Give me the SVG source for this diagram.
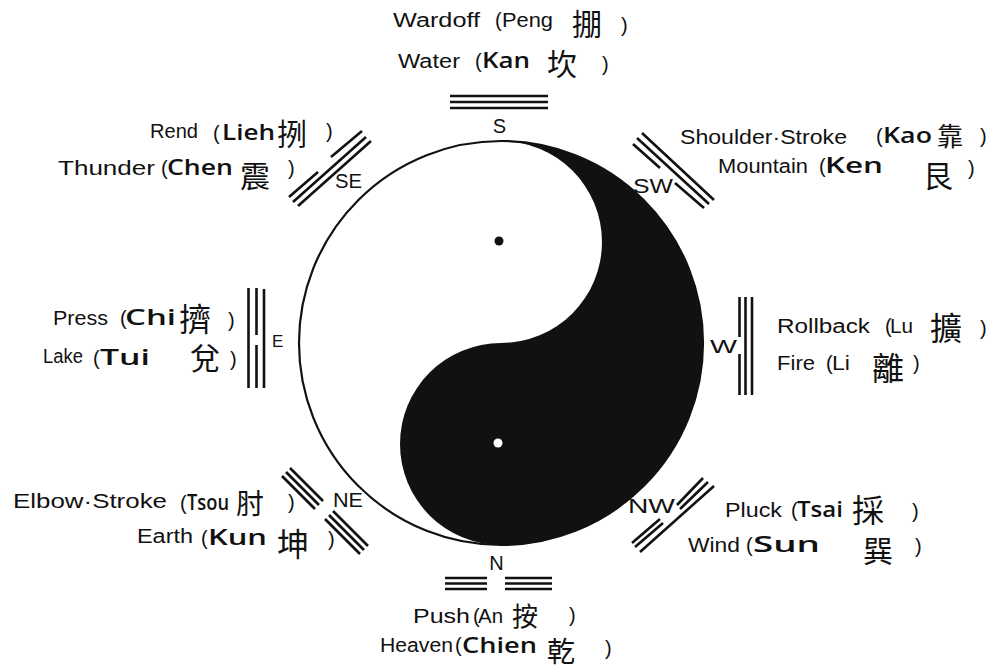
<svg xmlns="http://www.w3.org/2000/svg" width="991" height="672" viewBox="0 0 991 672">
<style>
text{fill:#111}
.en{font-family:"Liberation Sans",Arial,sans-serif;font-size:20px}
.tr{font-family:"Open Sans","DejaVu Sans",sans-serif;font-size:22px;font-weight:600}
.cj{font-family:"Noto Sans CJK TC","Noto Sans CJK SC",sans-serif;font-size:30px}
.dir{font-family:"Liberation Sans",Arial,sans-serif;font-size:20px}
.tri line{stroke:#111;stroke-width:2.6;stroke-linecap:butt}
</style>
<rect width="991" height="672" fill="#fff"/>

<g id="yinyang">
<circle cx="501" cy="343" r="202" fill="#fff" stroke="#111" stroke-width="2.2"/>
<path d="M501,141 A202,202 0 0 1 501,545 A101,101 0 0 1 501,343 A101,101 0 0 0 501,141 Z" fill="#111"/>
<circle cx="499" cy="241" r="4.5" fill="#111"/>
<circle cx="498" cy="443" r="4.5" fill="#fff"/>
</g>

<g id="connectors"></g>

<g id="node-s">
<text class="en" y="27"><tspan x="393" textLength="87" lengthAdjust="spacingAndGlyphs">Wardoff</tspan> <tspan x="495">(</tspan><tspan x="502" textLength="51" lengthAdjust="spacingAndGlyphs">Peng</tspan> <tspan class="cj" x="572" y="35">掤</tspan><tspan x="621" y="32">)</tspan></text>
<text class="en" y="68"><tspan x="398" textLength="62" lengthAdjust="spacingAndGlyphs">Water</tspan> <tspan x="475">(</tspan><tspan class="tr" x="482" textLength="48" lengthAdjust="spacingAndGlyphs">Kan</tspan> <tspan class="cj" x="547" y="75">坎</tspan><tspan x="602" y="71">)</tspan></text>
<g class="tri">
<line x1="450" y1="96" x2="548" y2="96"/>
<line x1="450" y1="102" x2="548" y2="102"/>
<line x1="450" y1="108" x2="548" y2="108"/>
</g>
<text class="dir" x="499.5" y="133" text-anchor="middle">S</text>
</g>

<g id="node-se">
<text class="en" y="138"><tspan x="150" textLength="48" lengthAdjust="spacingAndGlyphs">Rend</tspan> <tspan x="213" y="140">(</tspan><tspan class="tr" x="222" y="140" textLength="53" lengthAdjust="spacingAndGlyphs">Lieh</tspan> <tspan class="cj" x="277" y="145">挒</tspan><tspan x="326" y="138">)</tspan></text>
<text class="en" y="175"><tspan x="58" textLength="97" lengthAdjust="spacingAndGlyphs">Thunder</tspan> <tspan x="161">(</tspan><tspan class="tr" x="167" textLength="66" lengthAdjust="spacingAndGlyphs">Chen</tspan> <tspan class="cj" x="240" y="187">震</tspan><tspan x="288" y="175">)</tspan></text>
<g class="tri">
<line x1="289" y1="197" x2="318" y2="172"/>
<line x1="331" y1="157" x2="362" y2="131"/>
<line x1="293" y1="202" x2="366" y2="137"/>
<line x1="298" y1="206" x2="371" y2="141"/>
</g>
<text class="dir" x="335" y="188" textLength="27" lengthAdjust="spacingAndGlyphs">SE</text>
</g>

<g id="node-sw">
<text class="en" y="144"><tspan x="680" textLength="167" lengthAdjust="spacingAndGlyphs">Shoulder·Stroke</tspan> <tspan x="876" y="143">(</tspan><tspan class="tr" x="883" y="143" textLength="49" lengthAdjust="spacingAndGlyphs">Kao</tspan> <tspan class="cj" x="937" y="146" style="font-size:26px">靠</tspan><tspan x="980" y="143">)</tspan></text>
<text class="en" y="173"><tspan x="718" textLength="90" lengthAdjust="spacingAndGlyphs">Mountain</tspan> <tspan x="819">(</tspan><tspan class="tr" x="825" textLength="58" lengthAdjust="spacingAndGlyphs">Ken</tspan> <tspan class="cj" x="923" y="187">艮</tspan><tspan x="968" y="175">)</tspan></text>
<g class="tri">
<line x1="642" y1="133" x2="714" y2="200"/>
<line x1="637" y1="138" x2="709" y2="204"/>
<line x1="633" y1="144" x2="660" y2="168"/>
<line x1="675" y1="183" x2="704" y2="208"/>
</g>
<text class="dir" x="633" y="193" textLength="40" lengthAdjust="spacingAndGlyphs">SW</text>
</g>

<g id="node-e">
<text class="en" y="325"><tspan x="53" textLength="55" lengthAdjust="spacingAndGlyphs">Press</tspan> <tspan x="120">(</tspan><tspan class="tr" x="125" textLength="51" lengthAdjust="spacingAndGlyphs">Chi</tspan> <tspan class="cj" x="179" y="331" style="font-size:32px">擠</tspan><tspan x="228" y="327">)</tspan></text>
<text class="en" y="363"><tspan x="43" textLength="40" lengthAdjust="spacingAndGlyphs">Lake</tspan> <tspan x="93" y="365">(</tspan><tspan class="tr" x="100" y="365" textLength="50" lengthAdjust="spacingAndGlyphs">Tui</tspan> <tspan class="cj" x="190" y="369">兌</tspan><tspan x="230" y="366">)</tspan></text>
<g class="tri">
<line x1="248.5" y1="288" x2="248.5" y2="388"/>
<line x1="256.5" y1="288" x2="256.5" y2="335"/>
<line x1="256.5" y1="345" x2="256.5" y2="388"/>
<line x1="264" y1="289" x2="264" y2="388"/>
</g>
<text class="dir" x="272" y="347" style="font-size:17px">E</text>
</g>

<g id="node-w">
<text class="en" y="333"><tspan x="777" textLength="93" lengthAdjust="spacingAndGlyphs">Rollback</tspan> <tspan x="885">(</tspan><tspan x="890" textLength="23" lengthAdjust="spacingAndGlyphs">Lu</tspan> <tspan class="cj" x="930" y="340" style="font-size:32px">擴</tspan><tspan x="980" y="335">)</tspan></text>
<text class="en" y="370"><tspan x="777" textLength="38" lengthAdjust="spacingAndGlyphs">Fire</tspan> <tspan x="826">(</tspan><tspan x="832" textLength="18" lengthAdjust="spacingAndGlyphs">Li</tspan> <tspan class="cj" x="872" y="380" style="font-size:32px">離</tspan><tspan x="913" y="370">)</tspan></text>
<g class="tri">
<line x1="739.5" y1="297" x2="739.5" y2="337"/>
<line x1="739.5" y1="354" x2="739.5" y2="395"/>
<line x1="745.5" y1="297" x2="745.5" y2="395"/>
<line x1="752" y1="297" x2="752" y2="395"/>
</g>
<text class="dir" x="710" y="353" textLength="27" lengthAdjust="spacingAndGlyphs" style="font-size:18px">W</text>
</g>

<g id="node-ne">
<text class="en" y="508"><tspan x="13" textLength="154" lengthAdjust="spacingAndGlyphs">Elbow·Stroke</tspan> <tspan x="180" y="510">(</tspan><tspan class="tr" x="187" y="510" textLength="42" lengthAdjust="spacingAndGlyphs">Tsou</tspan> <tspan class="cj" x="236" y="514" style="font-size:28px">肘</tspan><tspan x="288" y="509">)</tspan></text>
<text class="en" y="543"><tspan x="137" textLength="56" lengthAdjust="spacingAndGlyphs">Earth</tspan> <tspan x="201" y="545">(</tspan><tspan class="tr" x="208" y="545" textLength="59" lengthAdjust="spacingAndGlyphs">Kun</tspan> <tspan class="cj" x="277" y="556" style="font-size:32px">坤</tspan><tspan x="328" y="546">)</tspan></text>
<g class="tri">
<line x1="290" y1="468" x2="323" y2="501"/>
<line x1="333" y1="511" x2="368" y2="546"/>
<line x1="286" y1="472" x2="319" y2="505"/>
<line x1="329" y1="515" x2="364" y2="550"/>
<line x1="282" y1="476" x2="315" y2="509"/>
<line x1="325" y1="519" x2="360" y2="554"/>
</g>
<text class="dir" x="333" y="507" textLength="30" lengthAdjust="spacingAndGlyphs">NE</text>
</g>

<g id="node-nw">
<text class="en" y="517"><tspan x="725" textLength="57" lengthAdjust="spacingAndGlyphs">Pluck</tspan> <tspan x="791">(</tspan><tspan class="tr" x="797" textLength="46" lengthAdjust="spacingAndGlyphs">Tsai</tspan> <tspan class="cj" x="852" y="522" style="font-size:32px">採</tspan><tspan x="912" y="518">)</tspan></text>
<text class="en" y="552"><tspan x="688" textLength="52" lengthAdjust="spacingAndGlyphs">Wind</tspan> <tspan x="746">(</tspan><tspan class="tr" x="753" textLength="67" lengthAdjust="spacingAndGlyphs">Sun</tspan> <tspan class="cj" x="863" y="562">巽</tspan><tspan x="915" y="553">)</tspan></text>
<g class="tri">
<line x1="632" y1="543" x2="660" y2="519"/>
<line x1="677" y1="505" x2="703" y2="478"/>
<line x1="635" y1="547" x2="663" y2="523"/>
<line x1="680" y1="509" x2="708" y2="482"/>
<line x1="640" y1="552" x2="714" y2="486"/>
</g>
<text class="dir" x="628" y="513" textLength="47" lengthAdjust="spacingAndGlyphs">NW</text>
</g>

<g id="node-n">
<text class="en" y="623"><tspan x="413" textLength="57" lengthAdjust="spacingAndGlyphs">Push</tspan> <tspan x="473">(</tspan><tspan x="478" textLength="25" lengthAdjust="spacingAndGlyphs">An</tspan> <tspan class="cj" x="512" y="626" style="font-size:26px">按</tspan><tspan x="569" y="622">)</tspan></text>
<text class="en" y="652"><tspan x="380" textLength="73" lengthAdjust="spacingAndGlyphs">Heaven</tspan> <tspan x="455">(</tspan><tspan class="tr" x="462" y="653" textLength="75" lengthAdjust="spacingAndGlyphs">Chien</tspan> <tspan class="cj" x="547" y="662" style="font-size:28px">乾</tspan><tspan x="605" y="655">)</tspan></text>
<g class="tri">
<line x1="445" y1="578" x2="487" y2="578"/>
<line x1="505" y1="578" x2="552" y2="578"/>
<line x1="445" y1="583.5" x2="487" y2="583.5"/>
<line x1="505" y1="583.5" x2="552" y2="583.5"/>
<line x1="445" y1="589" x2="487" y2="589"/>
<line x1="505" y1="589" x2="552" y2="589"/>
</g>
<text class="dir" x="496.5" y="570" text-anchor="middle">N</text>
</g>
</svg>
